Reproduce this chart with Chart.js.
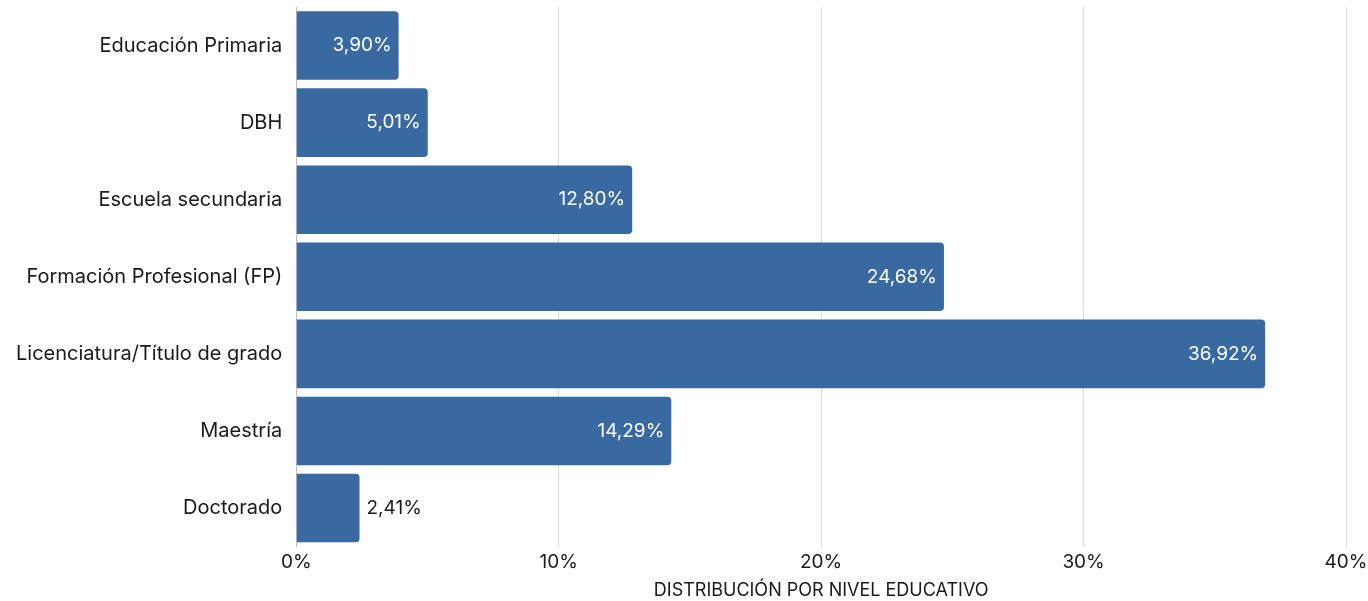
<!DOCTYPE html>
<html>
<head>
<meta charset="utf-8">
<script src="https://cdn.jsdelivr.net/npm/chart.js@4/dist/chart.umd.min.js"></script>
<style>
  html, body { margin: 0; padding: 0; background: #fff; }
  #wrap { width: 1368px; height: 601px; }
</style>
</head>
<body>
<div id="wrap"><canvas id="chart"></canvas></div>
<script>
const categories = [
  "Educación Primaria",
  "DBH",
  "Escuela secundaria",
  "Formación Profesional (FP)",
  "Licenciatura/Título de grado",
  "Maestría",
  "Doctorado"
];
const shares = [3.90, 5.01, 12.80, 24.68, 36.92, 14.29, 2.41];
const xTicks = [0, 10, 20, 30, 40];
const axisTitle = "DISTRIBUCIÓN POR NIVEL EDUCATIVO";

const fontFamily = "Inter, 'Noto Sans', sans-serif";
const fmt = (v) => v.toFixed(2).replace(".", ",") + "%";

// value labels: inside the bar end in white, outside in dark when the bar is too short
const valueLabels = {
  id: "valueLabels",
  afterDatasetsDraw(chart) {
    const { ctx } = chart;
    const meta = chart.getDatasetMeta(0);
    ctx.save();
    ctx.font = "19px " + fontFamily;
    ctx.textBaseline = "middle";
    meta.data.forEach((bar, i) => {
      const text = fmt(shares[i]);
      const w = ctx.measureText(text).width;
      const barW = bar.x - bar.base;
      if (barW > w + 16) {
        ctx.fillStyle = "#ffffff";
        ctx.textAlign = "right";
        ctx.fillText(text, bar.x - 7, bar.y);
      } else {
        ctx.fillStyle = "#1a1a1a";
        ctx.textAlign = "left";
        ctx.fillText(text, bar.x + 7, bar.y);
      }
    });
    ctx.restore();
  }
};

new Chart(document.getElementById("chart"), {
  type: "bar",
  data: {
    labels: categories,
    datasets: [{
      data: shares,
      backgroundColor: "#3869a1",
      borderRadius: { topRight: 4, bottomRight: 4, topLeft: 0, bottomLeft: 0 },
      borderSkipped: false,
      categoryPercentage: 0.89,
      barPercentage: 1.0,
    }],
  },
  options: {
    indexAxis: "y",
    responsive: true,
    maintainAspectRatio: false,
    animation: false,
    layout: { padding: { top: 7, right: 0, left: 2, bottom: 0 } },
    plugins: { legend: { display: false }, tooltip: { enabled: false } },
    scales: {
      x: {
        min: 0,
        max: 40,
        afterBuildTicks: (axis) => { axis.ticks = xTicks.map(v => ({ value: v })); },
        afterFit: (scale) => { scale.paddingRight = 22; },
        ticks: {
          color: "#1a1a1a",
          font: { family: fontFamily, size: 19 },
          padding: 4,
          callback: (v) => v + "%",
          maxRotation: 0,
        },
        grid: { color: "#d9d9d9", lineWidth: 1, drawTicks: false },
        border: { display: false },
        title: {
          display: true,
          text: axisTitle,
          color: "#1a1a1a",
          font: { family: fontFamily, size: 18 },
          padding: { top: 2, bottom: 0 },
        },
      },
      y: {
        // the category labels should not push the plot down from the top
        afterFit: (scale) => { scale.paddingTop = 0; scale.paddingBottom = 0; },
        ticks: {
          color: "#1a1a1a",
          font: { family: fontFamily, size: 20 },
          padding: 14,
        },
        grid: { display: false, drawTicks: false },
        border: { display: true, color: "#bdbdbd", width: 1 },
      },
    },
  },
  plugins: [valueLabels],
});
</script>
</body>
</html>
